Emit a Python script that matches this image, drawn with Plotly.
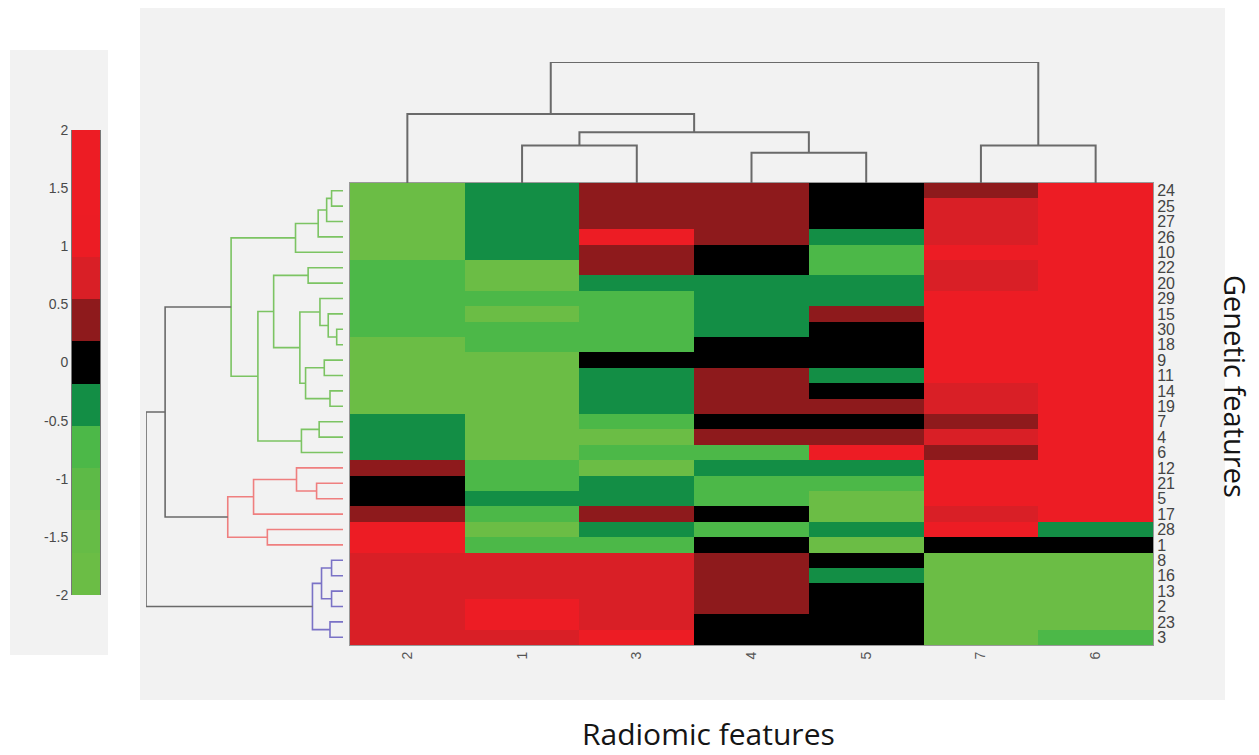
import plotly.graph_objects as go
import numpy as np

# ---------------- data ----------------
col_labels = ["2", "1", "3", "4", "5", "7", "6"]
row_labels = ["24", "25", "27", "26", "10", "22", "20", "29", "15", "30",
              "18", "9", "11", "14", "19", "7", "4", "6", "12", "21",
              "5", "17", "28", "1", "8", "16", "13", "2", "23", "3"]

# values per column (top row to bottom row)
col_2 = [-1.8, -1.8, -1.8, -1.8, -1.8, -0.7, -0.7, -0.7, -0.7, -0.7,
         -1.8, -1.8, -1.8, -1.8, -1.8, -0.35, -0.35, -0.35, 0.35, 0.0,
         0.0, 0.35, 1.5, 1.5, 0.7, 0.7, 0.7, 0.7, 0.7, 0.7]
col_1 = [-0.35, -0.35, -0.35, -0.35, -0.35, -1.8, -1.8, -0.7, -1.8, -0.7,
         -0.7, -1.8, -1.8, -1.8, -1.8, -1.8, -1.8, -1.8, -0.7, -0.7,
         -0.35, -0.7, -1.8, -0.7, 0.7, 0.7, 0.7, 1.5, 1.5, 0.7]
col_3 = [0.35, 0.35, 0.35, 1.5, 0.35, 0.35, -0.35, -0.7, -0.7, -0.7,
         -0.7, 0.0, -0.35, -0.35, -0.35, -0.7, -1.8, -0.7, -1.8, -0.35,
         -0.35, 0.35, -0.35, -0.7, 0.7, 0.7, 0.7, 0.7, 0.7, 1.5]
col_4 = [0.35, 0.35, 0.35, 0.35, 0.0, 0.0, -0.35, -0.35, -0.35, -0.35,
         0.0, 0.0, 0.35, 0.35, 0.35, 0.0, 0.35, -0.7, -0.35, -0.7,
         -0.7, 0.0, -0.7, 0.0, 0.35, 0.35, 0.35, 0.35, 0.0, 0.0]
col_5 = [0.0, 0.0, 0.0, -0.35, -0.7, -0.7, -0.35, -0.35, 0.35, 0.0,
         0.0, 0.0, -0.35, 0.0, 0.35, 0.0, 0.35, 1.5, -0.35, -0.7,
         -1.8, -1.8, -0.35, -1.8, 0.0, -0.35, 0.0, 0.0, 0.0, 0.0]
col_7 = [0.35, 0.7, 0.7, 0.7, 1.5, 0.7, 0.7, 1.5, 1.5, 1.5,
         1.5, 1.5, 1.5, 0.7, 0.7, 0.35, 0.7, 0.35, 1.5, 1.5,
         1.5, 0.7, 1.5, 0.0, -1.8, -1.8, -1.8, -1.8, -1.8, -1.8]
col_6 = [1.5, 1.5, 1.5, 1.5, 1.5, 1.5, 1.5, 1.5, 1.5, 1.5,
         1.5, 1.5, 1.5, 1.5, 1.5, 1.5, 1.5, 1.5, 1.5, 1.5,
         1.5, 1.5, -0.35, 0.0, -1.8, -1.8, -1.8, -1.8, -1.8, -0.7]

# row dendrogram: (child_a, child_b, height, group); leaves 0..29, internal nodes 30..
row_merges = [
    (0, 1, 0.058, "g"), (30, 2, 0.083, "g"), (31, 3, 0.126, "g"), (32, 4, 0.241, "g"),
    (5, 6, 0.177, "g"), (9, 10, 0.032, "g"), (8, 35, 0.075, "g"), (7, 36, 0.117, "g"),
    (11, 12, 0.095, "g"), (13, 14, 0.066, "g"), (38, 39, 0.190, "g"), (37, 40, 0.219, "g"),
    (34, 41, 0.352, "g"), (15, 16, 0.121, "g"), (43, 17, 0.211, "g"), (42, 44, 0.432, "g"),
    (33, 45, 0.568, "g"),
    (19, 20, 0.134, "r"), (18, 47, 0.236, "r"), (48, 21, 0.454, "r"), (22, 23, 0.384, "r"),
    (49, 50, 0.585, "r"),
    (24, 25, 0.058, "b"), (26, 27, 0.058, "b"), (52, 53, 0.109, "b"), (28, 29, 0.066, "b"),
    (54, 55, 0.155, "b"),
    (46, 51, 0.903, "k"), (57, 56, 1.0, "k"),
]
# column dendrogram: leaves 0..6 (display order), internal nodes 7..
col_merges = [
    (1, 2, 0.31, "k"), (3, 4, 0.25, "k"), (7, 8, 0.42, "k"),
    (0, 9, 0.57, "k"), (5, 6, 0.31, "k"), (10, 11, 1.0, "k"),
]
cbar_ticks = [-2, -1.5, -1, -0.5, 0, 0.5, 1, 1.5, 2]

# ---------------- style ----------------
W, H = 1259, 755
bin_colors = ["#6bbd45", "#66bc46", "#5dba47", "#4cb848", "#138e45", "#000000",
              "#8e1a1c", "#d91f26", "#ec1c24", "#ed1c24", "#ed1c24"]
nb = len(bin_colors)
colorscale = []
for i, c in enumerate(bin_colors):
    colorscale.append([i / nb, c])
    colorscale.append([(i + 1) / nb, c])
line_colors = {"g": "#7cc463", "r": "#ef7f7f", "b": "#7a72c6", "k": "#6a6a6a"}


def px_x(p):
    return p / W


def px_y(p):
    return 1 - p / H


hm_x = [px_x(350), px_x(1153)]
hm_y = [px_y(645), px_y(183)]

z = np.array([col_2, col_1, col_3, col_4, col_5, col_7, col_6]).T

fig = go.Figure()

# main heatmap
fig.add_trace(go.Heatmap(
    z=z, x=list(range(len(col_labels))), y=list(range(len(row_labels))),
    colorscale=colorscale, zmin=-2, zmax=2, showscale=False,
    hoverinfo="skip", xaxis="x", yaxis="y"))


def dendro_segments(merges, n_leaves):
    pos = {i: float(i) for i in range(n_leaves)}
    hgt = {i: 0.0 for i in range(n_leaves)}
    segs = {}
    node = n_leaves
    for a, b, h, g in merges:
        pa, pb = pos[a], pos[b]
        ha, hb = hgt[a], hgt[b]
        s = segs.setdefault(g, ([], []))
        s[0].extend([pa, pa, pb, pb, None])
        s[1].extend([ha, h, h, hb, None])
        pos[node] = (pa + pb) / 2
        hgt[node] = h
        node += 1
    return segs


# row dendrogram (left)
for g, (p, h) in dendro_segments(row_merges, len(row_labels)).items():
    fig.add_trace(go.Scatter(x=h, y=p, mode="lines", xaxis="x3", yaxis="y3",
                             line=dict(color=line_colors[g], width=1.6),
                             hoverinfo="skip", showlegend=False))
# column dendrogram (top)
for g, (p, h) in dendro_segments(col_merges, len(col_labels)).items():
    fig.add_trace(go.Scatter(x=p, y=h, mode="lines", xaxis="x2", yaxis="y2",
                             line=dict(color=line_colors[g], width=2),
                             hoverinfo="skip", showlegend=False))

# colour bar drawn as its own heatmap with an axis on the left
edges = np.linspace(-2, 2, nb + 1)
centers = (edges[:-1] + edges[1:]) / 2
fig.add_trace(go.Heatmap(
    z=[[c] for c in centers], x=[0], y=centers, colorscale=colorscale,
    zmin=-2, zmax=2, showscale=False, hoverinfo="skip", xaxis="x4", yaxis="y4"))

panel = "#f2f2f2"
shapes = [
    dict(type="rect", xref="paper", yref="paper", x0=px_x(10), x1=px_x(108),
         y0=px_y(655), y1=px_y(50), fillcolor=panel, line_width=0, layer="below"),
    dict(type="rect", xref="paper", yref="paper", x0=px_x(140), x1=px_x(1225),
         y0=px_y(700), y1=px_y(8), fillcolor=panel, line_width=0, layer="below"),
]

tick_font = dict(family="Liberation Sans, Arial, sans-serif", size=16, color="#444")

fig.update_layout(
    width=W, height=H,
    margin=dict(l=0, r=0, t=0, b=0, pad=0, autoexpand=False),
    paper_bgcolor="white", plot_bgcolor="rgba(0,0,0,0)",
    showlegend=False, shapes=shapes,
    xaxis=dict(domain=hm_x, range=[-0.5, len(col_labels) - 0.5],
               tickvals=list(range(len(col_labels))), ticktext=col_labels,
               tickangle=-90, ticks="", showgrid=False, zeroline=False, automargin=False,
               tickfont=dict(family="Liberation Sans, Arial, sans-serif", size=14, color="#555"),
               showline=True, linecolor="#999", linewidth=1, mirror=True, anchor="y"),
    yaxis=dict(domain=hm_y, range=[len(row_labels) - 0.5, -0.5],
               tickvals=list(range(len(row_labels))), ticktext=row_labels,
               side="right", ticks="", showgrid=False, zeroline=False, automargin=False,
               tickfont=tick_font, showline=True, linecolor="#999", linewidth=1,
               mirror=True, anchor="x"),
    xaxis2=dict(domain=hm_x, range=[-0.5, len(col_labels) - 0.5], visible=False,
                anchor="y2", automargin=False),
    yaxis2=dict(domain=[hm_y[1], px_y(62)], range=[0, 1.0], visible=False,
                anchor="x2", automargin=False),
    xaxis3=dict(domain=[px_x(146), px_x(343)], range=[1.0, 0], visible=False,
                anchor="y3", automargin=False),
    yaxis3=dict(domain=hm_y, range=[len(row_labels) - 0.5, -0.5], visible=False,
                anchor="x3", automargin=False),
    xaxis4=dict(domain=[px_x(72), px_x(100)], range=[-0.5, 0.5], visible=False,
                anchor="y4", automargin=False),
    yaxis4=dict(domain=[px_y(595), px_y(130)], range=[-2, 2], anchor="x4",
                tickvals=cbar_ticks, ticktext=[f"{t:g}" for t in cbar_ticks],
                side="left", ticks="", showgrid=False, zeroline=False, automargin=False,
                showline=True, mirror=True, linecolor="#777", linewidth=1,
                tickfont=dict(family="Liberation Sans, Arial, sans-serif", size=14, color="#4a4a4a")),
    annotations=[
        dict(text="Radiomic features", xref="paper", yref="paper",
             x=px_x(708), y=px_y(733), showarrow=False, xanchor="center", yanchor="middle",
             font=dict(family="Open Sans, sans-serif", size=30, color="#151515")),
        dict(text="Genetic features", xref="paper", yref="paper",
             x=px_x(1236), y=px_y(386), showarrow=False, textangle=90,
             xanchor="center", yanchor="middle",
             font=dict(family="Open Sans, sans-serif", size=29, color="#151515")),
    ],
)

fig.write_html(
    "out.html",
    config={"displayModeBar": False},
    post_script="document.body.style.margin='0';document.body.style.overflow='hidden';",
)
